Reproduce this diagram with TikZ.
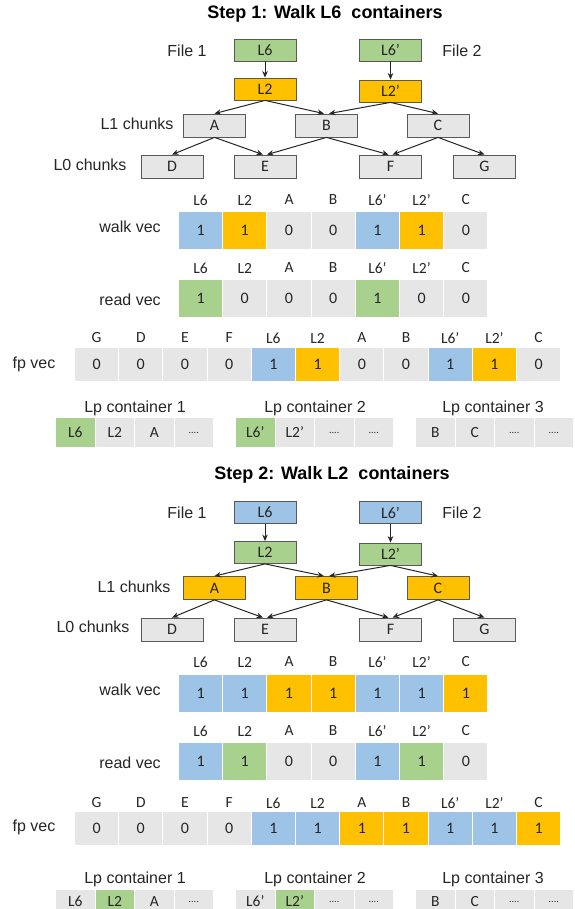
\documentclass[tikz,border=0pt]{standalone}
\usepackage{fontspec}
\setmainfont{Liberation Sans}
\newfontfamily\cfont{Carlito}
\usetikzlibrary{arrows.meta}
\definecolor{cgreen}{HTML}{A9D18E}
\definecolor{corange}{HTML}{FFC000}
\definecolor{cblue}{HTML}{9DC3E6}
\definecolor{cgrey}{HTML}{E7E6E6}
\definecolor{cedge}{HTML}{595959}
\definecolor{ctext}{HTML}{262626}
\tikzset{
 treebox/.style={draw=cedge, line width=0.8pt, minimum width=62pt, minimum height=22pt, inner sep=0pt, font=\cfont\fontsize{16}{16}\selectfont, text=ctext},
 cell/.style={minimum width=43.2pt, minimum height=37pt, inner sep=0pt, font=\cfont\fontsize{16}{16}\selectfont, text=ctext},
 fpcell/.style={cell, minimum height=33pt},
 head/.style={font=\cfont\fontsize{15.5}{16}\selectfont, inner sep=0pt, text=ctext},
 lab/.style={font=\fontsize{16}{16}\selectfont, inner sep=0pt, text=ctext},
 ttl/.style={font=\bfseries\fontsize{18}{18}\selectfont, inner sep=0pt},
 lpcell/.style={minimum width=38.5pt, minimum height=29pt, inner sep=0pt, font=\cfont\fontsize{15.5}{16}\selectfont, text=ctext},
 lpcellb/.style={lpcell, minimum height=24pt},
 edge/.style={-{Stealth[length=6.5pt,width=5.5pt]}, line width=1pt, ctext}
}
\newcommand{\dd}{{\fontsize{10}{10}\selectfont ....}}
\begin{document}
\begin{tikzpicture}[x=1pt,y=-1pt]
\path[use as bounding box, fill=white] (0,0) rectangle (574,909);

% ================= STEP 1 =================
\node[ttl] (t1) at (325,14) {Step 1: Walk L6~ containers};
\node[lab] (f1a) at (187,51) {File 1};
\node[lab] (f1b) at (462,51) {File 2};
\node[lab] (l1a) at (137,124) {L1 chunks};
\node[lab] (l0a) at (90,165) {L0 chunks};

\node[treebox, fill=cgreen] (s1L6) at (265,50) {L6};
\node[treebox, fill=cgreen] (s1L6p) at (390.5,50) {L6’};
\node[treebox, fill=corange] (s1L2) at (265,89) {L2};
\node[treebox, fill=corange] (s1L2p) at (390.5,91) {L2’};
\node[treebox, fill=cgrey, minimum height=23pt] (s1A) at (214.5,125.5) {A};
\node[treebox, fill=cgrey, minimum height=23pt] (s1B) at (326.5,125.5) {B};
\node[treebox, fill=cgrey, minimum height=23pt] (s1C) at (438,125.5) {C};
\node[treebox, fill=cgrey, minimum height=23pt] (s1D) at (172,166.5) {D};
\node[treebox, fill=cgrey, minimum height=23pt] (s1E) at (265,166.5) {E};
\node[treebox, fill=cgrey, minimum height=23pt] (s1F) at (390.5,166.5) {F};
\node[treebox, fill=cgrey, minimum height=23pt] (s1G) at (484.5,166.5) {G};

\draw[edge] (s1L6) -- (s1L2);
\draw[edge] (s1L6p) -- (s1L2p);
\draw[edge] (s1L2.south) -- (s1A.north);
\draw[edge] (s1L2.south) -- ([xshift=-2.5pt]s1B.north);
\draw[edge] (s1L2p.south) -- ([xshift=2.5pt]s1B.north);
\draw[edge] (s1L2p.south) -- (s1C.north);
\draw[edge] (s1A.south) -- (s1D.north);
\draw[edge] (s1A.south) -- ([xshift=-2pt]s1E.north);
\draw[edge] (s1B.south) -- ([xshift=2pt]s1E.north);
\draw[edge] (s1B.south) -- ([xshift=-2pt]s1F.north);
\draw[edge] (s1C.south) -- ([xshift=2pt]s1F.north);
\draw[edge] (s1C.south) -- (s1G.north);

\node[lab] (wl1) at (130,227) {walk vec};
\foreach \h/\c/\v [count=\i] in {L6/cblue/1, L2/corange/1, A/cgrey/0, B/cgrey/0, L6’/cblue/1, L2’/corange/1, C/cgrey/0} {
  \node[head] (w1h\i) at ({200.6+(\i-1)*44.2},200) {\h};
  \node[cell, fill=\c] (w1c\i) at ({200.6+(\i-1)*44.2},230.5) {\v};
}
\node[lab] (rl1) at (130,300) {read vec};
\foreach \h/\c/\v [count=\i] in {L6/cgreen/1, L2/cgrey/0, A/cgrey/0, B/cgrey/0, L6’/cgreen/1, L2’/cgrey/0, C/cgrey/0} {
  \node[head] (r1h\i) at ({200.6+(\i-1)*44.2},268) {\h};
  \node[cell, fill=\c] (r1c\i) at ({200.6+(\i-1)*44.2},298.5) {\v};
}
\node[lab] (fl1) at (34,364) {fp vec};
\foreach \h/\c/\v [count=\i] in {G/cgrey/0, D/cgrey/0, E/cgrey/0, F/cgrey/0, L6/cblue/1, L2/corange/1, A/cgrey/0, B/cgrey/0, L6’/cblue/1, L2’/corange/1, C/cgrey/0} {
  \node[head] (p1h\i) at ({96.6+(\i-1)*44.2},338) {\h};
  \node[fpcell, fill=\c] (p1c\i) at ({96.6+(\i-1)*44.2},364.5) {\v};
}
\node[lab] (lp1t1) at (135,408) {Lp container 1};
\node[lab] (lp1t2) at (315,408) {Lp container 2};
\node[lab] (lp1t3) at (493,408) {Lp container 3};
\foreach \t/\c [count=\j] in {L6/cgreen, L2/cgrey, A/cgrey, \dd/cgrey} {
  \node[lpcell, fill=\c] (q1a\j) at ({75.25+(\j-1)*39.5},432.5) {\t};
}
\foreach \t/\c [count=\j] in {L6’/cgreen, L2’/cgrey, \dd/cgrey, \dd/cgrey} {
  \node[lpcell, fill=\c] (q1b\j) at ({255.25+(\j-1)*39.5},432.5) {\t};
}
\foreach \t/\c [count=\j] in {B/cgrey, C/cgrey, \dd/cgrey, \dd/cgrey} {
  \node[lpcell, fill=\c] (q1c\j) at ({435.25+(\j-1)*39.5},432.5) {\t};
}

% ================= STEP 2 =================
\node[ttl] (t2) at (332,475) {Step 2: Walk L2~ containers};
\node[lab] (f2a) at (187,513) {File 1};
\node[lab] (f2b) at (462,513) {File 2};
\node[lab] (l1b) at (134,587) {L1 chunks};
\node[lab] (l0b) at (93,627) {L0 chunks};

\node[treebox, fill=cblue] (s2L6) at (265,512.5) {L6};
\node[treebox, fill=cblue] (s2L6p) at (390.5,512.5) {L6’};
\node[treebox, fill=cgreen] (s2L2) at (265,552.5) {L2};
\node[treebox, fill=cgreen] (s2L2p) at (390.5,554) {L2’};
\node[treebox, fill=corange, minimum height=23pt] (s2A) at (214.5,588) {A};
\node[treebox, fill=corange, minimum height=23pt] (s2B) at (326.5,588) {B};
\node[treebox, fill=corange, minimum height=23pt] (s2C) at (438,588) {C};
\node[treebox, fill=cgrey, minimum height=23pt] (s2D) at (172,629.5) {D};
\node[treebox, fill=cgrey, minimum height=23pt] (s2E) at (265,629.5) {E};
\node[treebox, fill=cgrey, minimum height=23pt] (s2F) at (390.5,629.5) {F};
\node[treebox, fill=cgrey, minimum height=23pt] (s2G) at (484.5,629.5) {G};

\draw[edge] (s2L6) -- (s2L2);
\draw[edge] (s2L6p) -- (s2L2p);
\draw[edge] (s2L2.south) -- (s2A.north);
\draw[edge] (s2L2.south) -- ([xshift=-2.5pt]s2B.north);
\draw[edge] (s2L2p.south) -- ([xshift=2.5pt]s2B.north);
\draw[edge] (s2L2p.south) -- (s2C.north);
\draw[edge] (s2A.south) -- (s2D.north);
\draw[edge] (s2A.south) -- ([xshift=-2pt]s2E.north);
\draw[edge] (s2B.south) -- ([xshift=2pt]s2E.north);
\draw[edge] (s2B.south) -- ([xshift=-2pt]s2F.north);
\draw[edge] (s2C.south) -- ([xshift=2pt]s2F.north);
\draw[edge] (s2C.south) -- (s2G.north);

\node[lab] (wl2) at (130,690) {walk vec};
\foreach \h/\c/\v [count=\i] in {L6/cblue/1, L2/cblue/1, A/corange/1, B/corange/1, L6’/cblue/1, L2’/cblue/1, C/corange/1} {
  \node[head] (w2h\i) at ({200.6+(\i-1)*44.2},662) {\h};
  \node[cell, fill=\c] (w2c\i) at ({200.6+(\i-1)*44.2},693.5) {\v};
}
\node[lab] (rl2) at (130,763) {read vec};
\foreach \h/\c/\v [count=\i] in {L6/cblue/1, L2/cgreen/1, A/cgrey/0, B/cgrey/0, L6’/cblue/1, L2’/cgreen/1, C/cgrey/0} {
  \node[head] (r2h\i) at ({200.6+(\i-1)*44.2},731) {\h};
  \node[cell, fill=\c] (r2c\i) at ({200.6+(\i-1)*44.2},761) {\v};
}
\node[lab] (fl2) at (34,827) {fp vec};
\foreach \h/\c/\v [count=\i] in {G/cgrey/0, D/cgrey/0, E/cgrey/0, F/cgrey/0, L6/cblue/1, L2/cblue/1, A/corange/1, B/corange/1, L6’/cblue/1, L2’/cblue/1, C/corange/1} {
  \node[head] (p2h\i) at ({96.6+(\i-1)*44.2},803) {\h};
  \node[fpcell, fill=\c] (p2c\i) at ({96.6+(\i-1)*44.2},828.5) {\v};
}
\node[lab] (lp2t1) at (135,879) {Lp container 1};
\node[lab] (lp2t2) at (315,879) {Lp container 2};
\node[lab] (lp2t3) at (493,879) {Lp container 3};
\foreach \t/\c [count=\j] in {L6/cgrey, L2/cgreen, A/cgrey, \dd/cgrey} {
  \node[lpcellb, fill=\c] (q2a\j) at ({75.25+(\j-1)*39.5},901.5) {\t};
}
\foreach \t/\c [count=\j] in {L6’/cgrey, L2’/cgreen, \dd/cgrey, \dd/cgrey} {
  \node[lpcellb, fill=\c] (q2b\j) at ({255.25+(\j-1)*39.5},901.5) {\t};
}
\foreach \t/\c [count=\j] in {B/cgrey, C/cgrey, \dd/cgrey, \dd/cgrey} {
  \node[lpcellb, fill=\c] (q2c\j) at ({435.25+(\j-1)*39.5},901.5) {\t};
}
\end{tikzpicture}
\end{document}
